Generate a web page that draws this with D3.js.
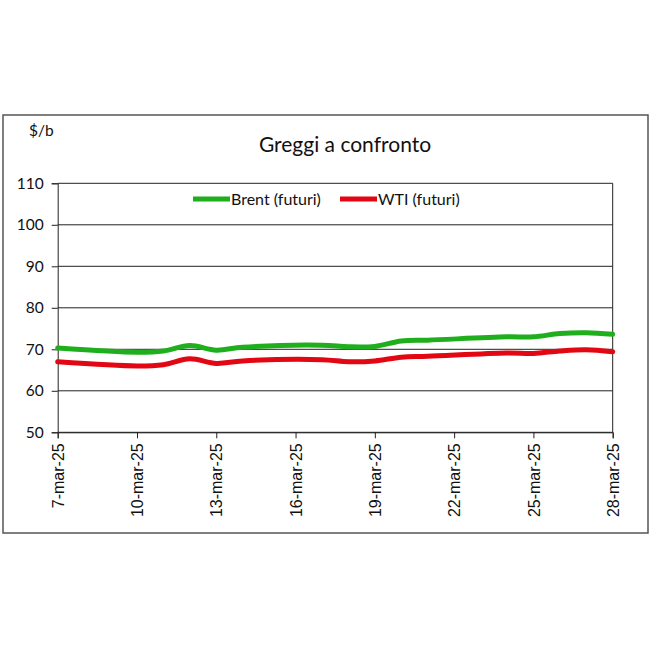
<!DOCTYPE html>
<html><head><meta charset="utf-8">
<script src="https://cdn.jsdelivr.net/npm/d3@7"></script>
<style>body{margin:0;background:#fff}svg{display:block}</style>
</head><body>
<svg id="c" width="650" height="650"></svg>
<script>
const dates = ["2025-03-07","2025-03-10","2025-03-11","2025-03-12","2025-03-13","2025-03-14","2025-03-17","2025-03-18","2025-03-19","2025-03-20","2025-03-21","2025-03-24","2025-03-25","2025-03-26","2025-03-27","2025-03-28"];
const brent = [70.3,69.3,69.6,70.9,69.8,70.5,71.0,70.6,70.7,72.0,72.2,73.0,73.0,73.8,74.0,73.6];
const wti   = [67.0,66.0,66.3,67.7,66.6,67.2,67.5,67.0,67.2,68.1,68.3,69.1,69.0,69.6,69.9,69.4];
const yTicks = [50,60,70,80,90,100,110];
const xTickDates = ["2025-03-07","2025-03-10","2025-03-13","2025-03-16","2025-03-19","2025-03-22","2025-03-25","2025-03-28"];
const seriesNames = ["Brent (futuri)","WTI (futuri)"];
const title = "Greggi a confronto";
const unit = "$/b";

const parse = d3.utcParse("%Y-%m-%d");
const fmtMon = d => `${d.getUTCDate()}-mar-25`;
const svg = d3.select("#c");
const L=57.7, R=612.7, T=183.3, B=432.3;
const x = d3.scaleUtc().domain([parse(dates[0]), parse(dates[dates.length-1])]).range([L,R]);
const y = d3.scaleLinear().domain([50,110]).range([B,T]);

// outer frame
svg.append("rect").attr("x",3).attr("y",115).attr("width",645).attr("height",418)
  .attr("fill","none").attr("stroke","#555").attr("stroke-width",1.5);

// gridlines
svg.append("g").selectAll("line").data(yTicks).join("line")
  .attr("x1",L).attr("x2",R).attr("y1",d=>y(d)).attr("y2",d=>y(d))
  .attr("stroke","#222").attr("stroke-width",1);
// right border
svg.append("line").attr("x1",R).attr("x2",R).attr("y1",T).attr("y2",B).attr("stroke","#222");

// y axis
const ya = svg.append("g").attr("transform",`translate(${L},0)`)
  .call(d3.axisLeft(y).tickValues(yTicks).tickSize(6).tickPadding(8));
ya.select(".domain").attr("stroke","#222");
ya.selectAll("line").attr("stroke","#222");
ya.selectAll("text").attr("font-family","Lato, 'Open Sans', sans-serif").attr("font-size",15.5).attr("fill","#111");

// x axis
const xa = svg.append("g").attr("transform",`translate(0,${B})`)
  .call(d3.axisBottom(x).tickValues(xTickDates.map(parse)).tickFormat(fmtMon).tickSize(6).tickPadding(5));
xa.select(".domain").attr("stroke","#222");
xa.selectAll("line").attr("stroke","#222");
xa.selectAll("text").attr("font-family","'Liberation Sans', Arial, sans-serif").attr("font-size",16).attr("fill","#111")
  .attr("transform","rotate(-90)").attr("text-anchor","end").attr("dx","-11").attr("dy","0.35em").attr("y",0);

// lines
const line = d3.line().x((d,i)=>x(parse(dates[i]))).y(d=>y(d)).curve(d3.curveCatmullRom.alpha(0.5));
svg.append("path").datum(brent).attr("d",line).attr("fill","none").attr("stroke","#1fae1c").attr("stroke-width",5).attr("stroke-linejoin","round").attr("stroke-linecap","round");
svg.append("path").datum(wti).attr("d",line).attr("fill","none").attr("stroke","#e30613").attr("stroke-width",5).attr("stroke-linejoin","round").attr("stroke-linecap","round");

// title & unit
svg.append("text").attr("x",345).attr("y",152).attr("text-anchor","middle")
  .attr("font-family","Lato, 'Open Sans', sans-serif").attr("font-size",21).attr("fill","#111").text(title);
svg.append("text").attr("x",29).attr("y",136)
  .attr("font-family","Lato, 'Open Sans', sans-serif").attr("font-size",15.5).attr("fill","#111").text(unit);

// legend
const leg = [{n:seriesNames[0],c:"#1fae1c",x:193},{n:seriesNames[1],c:"#e30613",x:340}];
const lg = svg.append("g");
leg.forEach(l=>{
  lg.append("line").attr("x1",l.x).attr("x2",l.x+37).attr("y1",199).attr("y2",199).attr("stroke",l.c).attr("stroke-width",5);
  lg.append("text").attr("x",l.x+38).attr("y",204.5).attr("font-family","Lato, 'Open Sans', sans-serif").attr("font-size",16).attr("fill","#111").text(l.n);
});
</script>
</body></html>
